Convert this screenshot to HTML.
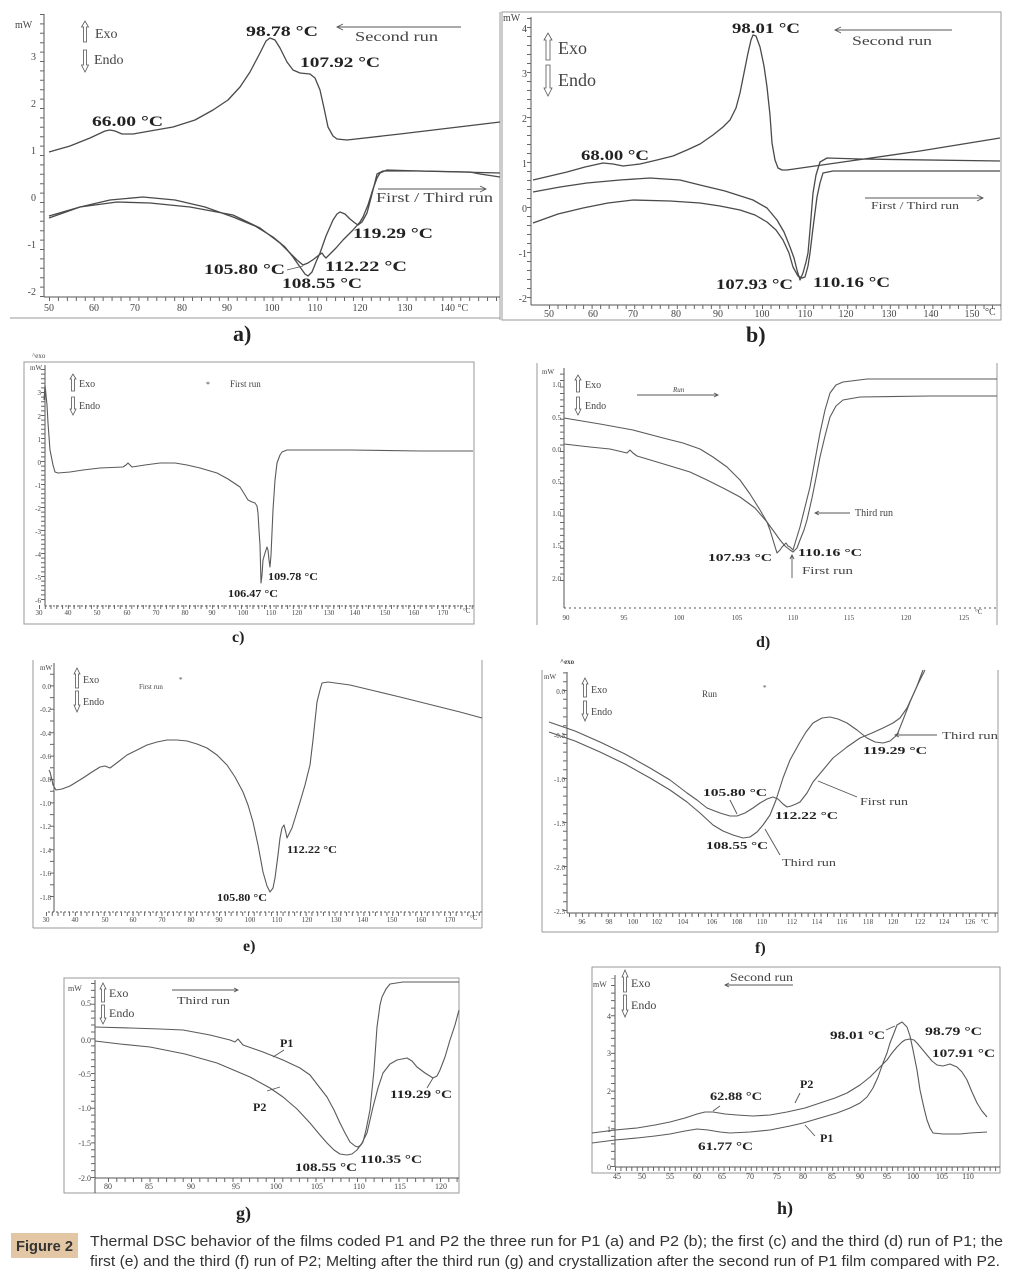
<!DOCTYPE html>
<html><head><meta charset="utf-8"><style>
html,body{margin:0;padding:0;background:#fff;}
svg{display:block;}
.c{fill:none;stroke:#4a4a4a;stroke-width:1.3;stroke-linejoin:round;}
.c2{fill:none;stroke:#5a5a5a;stroke-width:1.1;stroke-linejoin:round;}
.ax{stroke:#555;stroke-width:1;}
.fr{fill:none;stroke:#999;stroke-width:1;}
.tk{stroke:#666;stroke-width:4;}
.t{font-family:"Liberation Serif",serif;fill:#444;}
.b{font-family:"Liberation Serif",serif;font-weight:bold;fill:#222;}
.ar{fill:none;stroke:#555;stroke-width:0.8;}
.ln{stroke:#555;stroke-width:0.9;fill:none;}
</style></head><body>
<svg width="1013" height="1284" viewBox="0 0 1013 1284" xmlns="http://www.w3.org/2000/svg">
<rect width="1013" height="1284" fill="#fff"/>

<!-- ============ PANEL A ============ -->
<line class="fr" x1="10" y1="318" x2="500" y2="318"/>
<line class="fr" x1="500" y1="12" x2="500" y2="320"/>
<line class="ax" x1="44" y1="14" x2="44" y2="297"/>
<line class="ax" x1="44" y1="297" x2="500" y2="297"/>
<line class="tk" x1="42" y1="297" x2="42" y2="14" stroke-dasharray="1 8.4"/>
<line class="tk" x1="49" y1="299" x2="500" y2="299" stroke-dasharray="1 7.94"/>
<g class="t" font-size="10">
<text x="15" y="28">mW</text>
<g text-anchor="end"><text x="36" y="60">3</text><text x="36" y="107">2</text><text x="36" y="154">1</text><text x="36" y="201">0</text><text x="36" y="248">-1</text><text x="36" y="295">-2</text></g>
<g text-anchor="middle"><text x="49" y="311">50</text><text x="94" y="311">60</text><text x="135" y="311">70</text><text x="182" y="311">80</text><text x="227" y="311">90</text><text x="272" y="311">100</text><text x="315" y="311">110</text><text x="360" y="311">120</text><text x="405" y="311">130</text></g>
<text x="440" y="311">140 °C</text>
</g>
<polyline class="c" points="49,152 70,146 90,138 105,131 110,130 115,131 122,134 133,134 150,131 173,127 195,120 213,110 228,100 240,87 250,72 260,53 266,41 270,38 275,40 280,48 287,62 293,70 300,73 310,74 315,78 320,90 324,108 328,127 333,136 337,139 347,140 400,134 450,128 500,122"/>
<polyline class="c" points="49,218 80,207 110,200 143,197 175,200 205,207 233,217 255,226 273,237 285,247 293,257 300,267 305,274 308,276 312,272 316,262 320,253 326,236 333,220 337,214 340,212 345,214 350,219 355,223 358,225 362,222 367,213 371,198 375,182 377,174 383,171 420,171 460,172 500,173"/>
<polyline class="c" points="49,216 80,207 117,202 150,203 190,207 233,215 260,228 280,243 290,253 297,260 303,265 308,263 314,259 319,255 322,253 324,256 326,258 330,254 336,248 343,240 353,230 360,222 363,217 368,205 373,189 377,178 380,173 387,170 420,171 470,172 480,174 500,177"/>
<polygon class="ar" points="83.5,42 83.5,27 81.5,27 85,21 88.5,27 86.5,27 86.5,42"/>
<polygon class="ar" points="83.5,50 83.5,65 81.5,65 85,72 88.5,65 86.5,65 86.5,50"/>
<text class="t" x="95" y="38" font-size="14" fill="#333">Exo</text>
<text class="t" x="94" y="64" font-size="14" fill="#333">Endo</text>
<text class="b" x="246" y="36" font-size="15" textLength="72" lengthAdjust="spacingAndGlyphs">98.78 °C</text>
<text class="t" x="355" y="41" font-size="14" fill="#333" textLength="83" lengthAdjust="spacingAndGlyphs">Second run</text>
<line class="ln" x1="337" y1="27" x2="461" y2="27"/><polyline class="ln" points="343,24 337,27 343,30"/>
<text class="b" x="300" y="67" font-size="15" textLength="80" lengthAdjust="spacingAndGlyphs">107.92 °C</text>
<text class="b" x="92" y="126" font-size="15" textLength="71" lengthAdjust="spacingAndGlyphs">66.00 °C</text>
<text class="t" x="376" y="202" font-size="14" fill="#333" textLength="117" lengthAdjust="spacingAndGlyphs">First / Third run</text>
<line class="ln" x1="378" y1="189" x2="486" y2="189"/><polyline class="ln" points="480,186 486,189 480,192"/>
<text class="b" x="353" y="238" font-size="15" textLength="80" lengthAdjust="spacingAndGlyphs">119.29 °C</text>
<text class="b" x="204" y="274" font-size="15" textLength="81" lengthAdjust="spacingAndGlyphs">105.80 °C</text>
<line class="ln" x1="287" y1="270" x2="303" y2="266"/>
<text class="b" x="325" y="271" font-size="15" textLength="82" lengthAdjust="spacingAndGlyphs">112.22 °C</text>
<text class="b" x="282" y="288" font-size="15" textLength="80" lengthAdjust="spacingAndGlyphs">108.55 °C</text>
<text class="b" x="233" y="341" font-size="22">a)</text>

<!-- ============ PANEL B ============ -->
<rect class="fr" x="502" y="12" width="499" height="308"/>
<line class="ax" x1="531" y1="17" x2="531" y2="305"/>
<line class="ax" x1="531" y1="305" x2="1001" y2="305"/>
<line class="tk" x1="529" y1="298" x2="529" y2="17" stroke-dasharray="1 8"/>
<line class="tk" x1="549" y1="307" x2="1001" y2="307" stroke-dasharray="1 7.52"/>
<g class="t" font-size="10">
<text x="503" y="21">mW</text>
<g text-anchor="end"><text x="527" y="32">4</text><text x="527" y="77">3</text><text x="527" y="122">2</text><text x="527" y="167">1</text><text x="527" y="212">0</text><text x="527" y="257">-1</text><text x="527" y="302">-2</text></g>
<g text-anchor="middle"><text x="549" y="317">50</text><text x="593" y="317">60</text><text x="633" y="317">70</text><text x="676" y="317">80</text><text x="718" y="317">90</text><text x="762" y="317">100</text><text x="805" y="317">110</text><text x="846" y="317">120</text><text x="889" y="317">130</text><text x="931" y="317">140</text><text x="972" y="317">150</text></g>
<text x="985" y="315">°C</text>
</g>
<polyline class="c" points="533,180 550,176 567,172 585,167 603,163 613,164 623,166 640,164 657,160 673,156 687,150 700,144 713,135 723,127 730,120 736,108 740,93 744,73 748,53 751,40 753,35 756,36 760,47 764,66 767,87 770,115 772,143 775,160 778,168 782,170 787,170 850,161 920,151 1000,138"/>
<polyline class="c" points="533,192 560,187 587,183 620,180 650,178 680,180 700,185 725,191 753,200 767,208 777,220 784,232 790,247 794,258 797,270 800,280 803,273 806,262 808,253 810,230 813,193 816,175 820,162 827,158 860,159 1000,161"/>
<polyline class="c" points="533,223 558,214 583,208 608,203 633,200 670,201 700,203 720,206 740,210 755,215 767,222 776,230 783,240 789,253 793,267 798,276 802,278 805,277 808,266 810,253 813,228 817,197 820,183 823,173 833,171 900,171 1000,171"/>
<polygon class="ar" points="546,60 546,40 544,40 548,33 552,40 550,40 550,60"/>
<polygon class="ar" points="546,65 546,88 544,88 548,96 552,88 550,88 550,65"/>
<text class="t" x="558" y="54" font-size="18" fill="#333">Exo</text>
<text class="t" x="558" y="86" font-size="18" fill="#333">Endo</text>
<text class="b" x="732" y="33" font-size="15" textLength="68" lengthAdjust="spacingAndGlyphs">98.01 °C</text>
<text class="t" x="852" y="45" font-size="13" fill="#333" textLength="80" lengthAdjust="spacingAndGlyphs">Second run</text>
<line class="ln" x1="835" y1="30" x2="952" y2="30"/><polyline class="ln" points="841,27 835,30 841,33"/>
<text class="b" x="581" y="160" font-size="15" textLength="68" lengthAdjust="spacingAndGlyphs">68.00 °C</text>
<text class="t" x="871" y="209" font-size="11" fill="#333" textLength="88" lengthAdjust="spacingAndGlyphs">First / Third run</text>
<line class="ln" x1="865" y1="198" x2="983" y2="198"/><polyline class="ln" points="977,195 983,198 977,201"/>
<text class="b" x="716" y="289" font-size="15" textLength="77" lengthAdjust="spacingAndGlyphs">107.93 °C</text>
<text class="b" x="813" y="287" font-size="15" textLength="77" lengthAdjust="spacingAndGlyphs">110.16 °C</text>
<text class="b" x="746" y="342" font-size="22">b)</text>

<!-- ============ PANEL C ============ -->
<rect class="fr" x="24" y="362" width="450" height="262"/>
<line class="ax" x1="45" y1="365" x2="45" y2="606"/>
<line class="ax" x1="45" y1="606" x2="474" y2="606" stroke-dasharray="2 2"/>
<line class="tk" x1="43" y1="600" x2="43" y2="366" stroke-dasharray="1 3.6"/>
<line class="tk" x1="39" y1="607" x2="474" y2="607" stroke-dasharray="1 4.77"/>
<g class="t" font-size="7">
<text x="32" y="358">^exo</text>
<text x="30" y="370">mW</text>
<g text-anchor="end"><text x="41" y="395">3</text><text x="41" y="419">2</text><text x="41" y="442">1</text><text x="41" y="465">0</text><text x="41" y="488">-1</text><text x="41" y="511">-2</text><text x="41" y="534">-3</text><text x="41" y="557">-4</text><text x="41" y="580">-5</text><text x="41" y="603">-6</text></g>
<g text-anchor="middle"><text x="39" y="615">30</text><text x="68" y="615">40</text><text x="97" y="615">50</text><text x="127" y="615">60</text><text x="156" y="615">70</text><text x="185" y="615">80</text><text x="212" y="615">90</text><text x="243" y="615">100</text><text x="271" y="615">110</text><text x="297" y="615">120</text><text x="329" y="615">130</text><text x="355" y="615">140</text><text x="385" y="615">150</text><text x="414" y="615">160</text><text x="443" y="615">170</text></g>
<text x="463" y="613">°C</text>
</g>
<polyline class="c2" points="44,400 45,385 47,405 48,423 50,450 53,465 55,472 58,473 70,472 83,470 100,468 123,467 126,465 128,463 130,465 132,467 145,465 160,463 175,463 187,465 200,468 217,473 228,479 240,487 245,495 248,500 252,502 255,503 257,506 258,513 259,530 260,545 261,583 262,575 263,560 265,553 267,547 268,550 269,560 270,567 271,555 273,510 275,480 277,463 280,455 282,452 287,450 350,450 420,451 473,451"/>
<polygon class="ar" points="71.5,391 71.5,379 70,379 73,374 76,379 74.5,379 74.5,391"/>
<polygon class="ar" points="71.5,397 71.5,409 70,409 73,415 76,409 74.5,409 74.5,397"/>
<text class="t" x="79" y="387" font-size="10" fill="#777">Exo</text>
<text class="t" x="79" y="409" font-size="10" fill="#777">Endo</text>
<text class="t" x="206" y="387" font-size="8">*</text>
<text class="t" x="230" y="387" font-size="9">First run</text>
<text class="b" x="268" y="580" font-size="10" textLength="50" lengthAdjust="spacingAndGlyphs">109.78 °C</text>
<text class="b" x="228" y="597" font-size="10" textLength="50" lengthAdjust="spacingAndGlyphs">106.47 °C</text>
<text class="b" x="232" y="642" font-size="16">c)</text>

<!-- ============ PANEL D ============ -->
<line class="fr" x1="537" y1="363" x2="537" y2="625"/>
<line class="fr" x1="997" y1="363" x2="997" y2="625"/>
<line class="ax" x1="564" y1="368" x2="564" y2="608"/>
<line class="ax" x1="564" y1="608" x2="997" y2="608" stroke-dasharray="2 3"/>
<line class="tk" x1="562" y1="581" x2="562" y2="369" stroke-dasharray="1 5.45"/>
<g class="t" font-size="7">
<text x="542" y="374">mW</text>
<g text-anchor="end"><text x="561" y="387">1.0</text><text x="561" y="420">0.5</text><text x="561" y="452">0.0</text><text x="561" y="484">0.5</text><text x="561" y="516">1.0</text><text x="561" y="548">1.5</text><text x="561" y="581">2.0</text></g>
<g text-anchor="middle"><text x="566" y="620">90</text><text x="624" y="620">95</text><text x="679" y="620">100</text><text x="737" y="620">105</text><text x="793" y="620">110</text><text x="849" y="620">115</text><text x="906" y="620">120</text><text x="964" y="620">125</text></g>
<text x="975" y="614">°C</text>
</g>
<polyline class="c2" points="564,418 600,424 633,430 667,439 683,443 700,449 713,457 727,467 740,480 750,494 760,510 767,522 770,530 773,540 777,553 780,550 782,547 786,543 788,546 790,547 793,550 796,540 800,527 805,507 810,487 815,460 820,433 825,410 830,393 836,385 843,382 867,379 930,379 997,379"/>
<polyline class="c2" points="564,444 590,447 610,449 627,453 630,450 633,453 637,456 667,465 690,472 707,480 725,489 740,497 755,508 767,522 775,533 780,540 785,546 790,550 793,552 797,548 800,540 804,530 807,520 812,498 816,478 820,457 825,436 830,417 836,406 843,400 860,397 930,396 997,396"/>
<polygon class="ar" points="576.5,392 576.5,380 575,380 578,375 581,380 579.5,380 579.5,392"/>
<polygon class="ar" points="576.5,397 576.5,409 575,409 578,415 581,409 579.5,409 579.5,397"/>
<text class="t" x="585" y="388" font-size="10">Exo</text>
<text class="t" x="585" y="409" font-size="10">Endo</text>
<text class="t" x="673" y="392" font-size="7" font-style="italic">Run</text>
<line class="ln" x1="637" y1="395" x2="718" y2="395"/><polyline class="ln" points="714,393 718,395 714,397"/>
<text class="t" x="855" y="516" font-size="10" fill="#333">Third run</text>
<line class="ln" x1="850" y1="513" x2="815" y2="513"/><polyline class="ln" points="819,511 815,513 819,515"/>
<text class="b" x="708" y="561" font-size="10" textLength="64" lengthAdjust="spacingAndGlyphs">107.93 °C</text>
<text class="b" x="798" y="556" font-size="10" textLength="64" lengthAdjust="spacingAndGlyphs">110.16 °C</text>
<text class="t" x="802" y="574" font-size="10" fill="#333" textLength="51" lengthAdjust="spacingAndGlyphs">First run</text>
<line class="ln" x1="792" y1="578" x2="792" y2="555"/><polyline class="ln" points="790,559 792,555 794,559"/>
<text class="b" x="756" y="647" font-size="16">d)</text>

<!-- ============ PANEL E ============ -->
<line class="fr" x1="33" y1="660" x2="33" y2="928"/>
<line class="fr" x1="482" y1="660" x2="482" y2="928"/>
<line class="fr" x1="33" y1="928" x2="482" y2="928"/>
<line class="ax" x1="54" y1="663" x2="54" y2="912"/>
<line class="ax" x1="48" y1="912" x2="482" y2="912" stroke-dasharray="2 2"/>
<line class="tk" x1="52" y1="897" x2="52" y2="664" stroke-dasharray="1 10.7"/>
<line class="tk" x1="46" y1="914" x2="482" y2="914" stroke-dasharray="1 4.77"/>
<g class="t" font-size="7">
<text x="40" y="670">mW</text>
<g text-anchor="end"><text x="51" y="689">0.0</text><text x="51" y="712">-0.2</text><text x="51" y="736">-0.4</text><text x="51" y="759">-0.6</text><text x="51" y="782">-0.8</text><text x="51" y="806">-1.0</text><text x="51" y="829">-1.2</text><text x="51" y="853">-1.4</text><text x="51" y="876">-1.6</text><text x="51" y="900">-1.8</text></g>
<g text-anchor="middle"><text x="46" y="922">30</text><text x="75" y="922">40</text><text x="105" y="922">50</text><text x="133" y="922">60</text><text x="162" y="922">70</text><text x="191" y="922">80</text><text x="219" y="922">90</text><text x="250" y="922">100</text><text x="277" y="922">110</text><text x="307" y="922">120</text><text x="336" y="922">130</text><text x="363" y="922">140</text><text x="392" y="922">150</text><text x="421" y="922">160</text><text x="450" y="922">170</text></g>
<text x="470" y="920">°C</text>
</g>
<polyline class="c2" points="49,770 50,772 52,780 53,785 56,790 62,789 70,786 83,778 92,772 100,767 105,766 110,768 118,762 127,755 137,750 147,745 157,742 167,740 177,740 187,741 197,744 207,748 217,755 227,765 235,777 243,792 248,805 253,822 258,845 263,872 267,886 270,892 273,888 275,878 278,855 280,838 282,828 284,825 286,833 287,838 289,834 292,828 296,815 300,802 305,785 310,765 313,740 317,702 320,690 322,683 328,682 350,685 375,691 400,697 420,702 440,707 460,712 482,718"/>
<polygon class="ar" points="75.5,688 75.5,674 74,674 77,668 80,674 78.5,674 78.5,688"/>
<polygon class="ar" points="75.5,691 75.5,705 74,705 77,712 80,705 78.5,705 78.5,691"/>
<text class="t" x="83" y="683" font-size="10">Exo</text>
<text class="t" x="83" y="705" font-size="10">Endo</text>
<text class="t" x="139" y="689" font-size="7">First run</text>
<text class="t" x="179" y="682" font-size="7">*</text>
<text class="b" x="287" y="853" font-size="10" textLength="50" lengthAdjust="spacingAndGlyphs">112.22 °C</text>
<text class="b" x="217" y="901" font-size="10" textLength="50" lengthAdjust="spacingAndGlyphs">105.80 °C</text>
<text class="b" x="243" y="951" font-size="16">e)</text>

<!-- ============ PANEL F ============ -->
<line class="fr" x1="542" y1="670" x2="542" y2="932"/>
<line class="fr" x1="998" y1="670" x2="998" y2="932"/>
<line class="fr" x1="542" y1="932" x2="998" y2="932"/>
<line class="ax" x1="567" y1="672" x2="567" y2="913"/>
<line class="ax" x1="567" y1="913" x2="998" y2="913"/>
<line class="tk" x1="565" y1="911" x2="565" y2="672" stroke-dasharray="1 7.8"/>
<line class="tk" x1="569" y1="915" x2="998" y2="915" stroke-dasharray="1 5.45"/>
<g class="t" font-size="7">
<text x="560" y="664" font-weight="bold">^exo</text>
<text x="544" y="679">mW</text>
<g text-anchor="end"><text x="565" y="694">0.0</text><text x="565" y="738">-0.5</text><text x="565" y="782">-1.0</text><text x="565" y="826">-1.5</text><text x="565" y="870">-2.0</text><text x="565" y="914">-2.5</text></g>
<g text-anchor="middle"><text x="582" y="924">96</text><text x="609" y="924">98</text><text x="633" y="924">100</text><text x="657" y="924">102</text><text x="683" y="924">104</text><text x="712" y="924">106</text><text x="737" y="924">108</text><text x="762" y="924">110</text><text x="792" y="924">112</text><text x="817" y="924">114</text><text x="842" y="924">116</text><text x="868" y="924">118</text><text x="893" y="924">120</text><text x="920" y="924">122</text><text x="944" y="924">124</text><text x="970" y="924">126</text></g>
<text x="981" y="924">°C</text>
</g>
<polyline class="c2" points="549,722 575,731 600,742 625,754 650,768 670,780 687,793 697,800 707,808 720,813 730,816 737,816 745,813 753,808 760,803 767,799 773,797 778,799 783,804 787,807 791,806 796,804 800,802 807,793 813,782 823,770 833,758 847,747 860,738 872,733 883,728 893,723 900,718 907,708 913,695 919,682 925,670"/>
<polyline class="c2" points="549,732 575,741 600,752 625,764 650,778 670,790 687,802 700,813 713,825 723,831 733,835 743,838 750,837 757,832 763,825 770,815 776,800 783,778 790,760 800,742 806,732 813,723 822,718 830,717 838,719 847,723 857,730 867,738 875,742 883,743 890,741 897,735 903,720 910,702 917,686 923,670"/>
<polygon class="ar" points="583.5,697 583.5,684 582,684 585,678 588,684 586.5,684 586.5,697"/>
<polygon class="ar" points="583.5,701 583.5,714 582,714 585,721 588,714 586.5,714 586.5,701"/>
<text class="t" x="591" y="693" font-size="10">Exo</text>
<text class="t" x="591" y="715" font-size="10">Endo</text>
<text class="t" x="702" y="697" font-size="9">Run</text>
<text class="t" x="763" y="690" font-size="7">*</text>
<text class="t" x="942" y="739" font-size="10" fill="#333" textLength="56" lengthAdjust="spacingAndGlyphs">Third run</text>
<line class="ln" x1="895" y1="735" x2="937" y2="735"/><polyline class="ln" points="899,733 895,735 899,737"/>
<text class="b" x="863" y="754" font-size="10" textLength="64" lengthAdjust="spacingAndGlyphs">119.29 °C</text>
<text class="b" x="703" y="796" font-size="10" textLength="64" lengthAdjust="spacingAndGlyphs">105.80 °C</text>
<line class="ln" x1="730" y1="800" x2="737" y2="814"/>
<text class="b" x="775" y="819" font-size="10" textLength="63" lengthAdjust="spacingAndGlyphs">112.22 °C</text>
<text class="t" x="860" y="805" font-size="10" fill="#333" textLength="48" lengthAdjust="spacingAndGlyphs">First run</text>
<line class="ln" x1="857" y1="797" x2="818" y2="781"/>
<text class="b" x="706" y="849" font-size="10" textLength="62" lengthAdjust="spacingAndGlyphs">108.55 °C</text>
<text class="t" x="782" y="866" font-size="10" fill="#333" textLength="54" lengthAdjust="spacingAndGlyphs">Third run</text>
<line class="ln" x1="780" y1="855" x2="765" y2="829"/>
<text class="b" x="755" y="953" font-size="16">f)</text>

<!-- ============ PANEL G ============ -->
<rect class="fr" x="64" y="978" width="395" height="215"/>
<line class="ax" x1="95" y1="980" x2="95" y2="1193"/>
<line class="ax" x1="95" y1="1178" x2="459" y2="1178"/>
<line class="tk" x1="93" y1="1178" x2="93" y2="982" stroke-dasharray="1 5.93"/>
<line class="tk" x1="108" y1="1180" x2="459" y2="1180" stroke-dasharray="1 7.3"/>
<g class="t" font-size="8">
<text x="68" y="991">mW</text>
<g text-anchor="end"><text x="91" y="1006">0.5</text><text x="91" y="1043">0.0</text><text x="91" y="1077">-0.5</text><text x="91" y="1111">-1.0</text><text x="91" y="1146">-1.5</text><text x="91" y="1181">-2.0</text></g>
<g text-anchor="middle"><text x="108" y="1189">80</text><text x="149" y="1189">85</text><text x="191" y="1189">90</text><text x="236" y="1189">95</text><text x="276" y="1189">100</text><text x="317" y="1189">105</text><text x="359" y="1189">110</text><text x="400" y="1189">115</text><text x="441" y="1189">120</text></g>
</g>
<polyline class="c2" points="95,1027 130,1028 160,1029 183,1030 210,1035 230,1040 235,1042 238,1039 243,1045 263,1052 283,1060 300,1068 310,1075 320,1088 327,1097 334,1110 340,1123 345,1133 350,1142 355,1146 358,1147 361,1145 363,1142 366,1130 370,1110 374,1070 377,1027 380,1005 382,997 386,989 390,984 403,982 430,982 459,982"/>
<polyline class="c2" points="95,1041 120,1044 150,1047 185,1054 217,1063 250,1077 270,1088 283,1097 297,1109 310,1123 320,1135 327,1143 334,1150 340,1154 347,1155 352,1154 357,1150 362,1143 367,1133 370,1120 373,1107 378,1088 383,1073 390,1064 397,1060 407,1058 412,1061 417,1067 425,1073 433,1078 437,1076 440,1070 445,1057 450,1040 455,1025 459,1010"/>
<polygon class="ar" points="101.5,1002 101.5,989 100,989 103,983 106,989 104.5,989 104.5,1002"/>
<polygon class="ar" points="101.5,1005 101.5,1018 100,1018 103,1024 106,1018 104.5,1018 104.5,1005"/>
<text class="t" x="109" y="997" font-size="12">Exo</text>
<text class="t" x="109" y="1017" font-size="12">Endo</text>
<text class="t" x="177" y="1004" font-size="11" fill="#333" textLength="53" lengthAdjust="spacingAndGlyphs">Third run</text>
<line class="ln" x1="172" y1="990" x2="238" y2="990"/><polyline class="ln" points="234,988 238,990 234,992"/>
<text class="b" x="280" y="1047" font-size="12">P1</text>
<line class="ln" x1="273" y1="1057" x2="284" y2="1050"/>
<text class="b" x="253" y="1111" font-size="12">P2</text>
<line class="ln" x1="267" y1="1091" x2="280" y2="1087"/>
<text class="b" x="390" y="1098" font-size="12" textLength="62" lengthAdjust="spacingAndGlyphs">119.29 °C</text>
<line class="ln" x1="427" y1="1088" x2="433" y2="1078"/>
<text class="b" x="295" y="1171" font-size="12" textLength="62" lengthAdjust="spacingAndGlyphs">108.55 °C</text>
<text class="b" x="360" y="1163" font-size="12" textLength="62" lengthAdjust="spacingAndGlyphs">110.35 °C</text>
<text class="b" x="236" y="1219" font-size="18">g)</text>

<!-- ============ PANEL H ============ -->
<rect class="fr" x="592" y="967" width="408" height="206"/>
<line class="ax" x1="615" y1="975" x2="615" y2="1167"/>
<line class="ax" x1="615" y1="1167" x2="1000" y2="1167"/>
<line class="tk" x1="613" y1="1167" x2="613" y2="978" stroke-dasharray="1 6.54"/>
<line class="tk" x1="615" y1="1169" x2="1000" y2="1169" stroke-dasharray="1 4.43"/>
<g class="t" font-size="8">
<text x="593" y="987">mW</text>
<g text-anchor="end"><text x="611" y="1019">4</text><text x="611" y="1056">3</text><text x="611" y="1094">2</text><text x="611" y="1132">1</text><text x="611" y="1170">0</text></g>
<g text-anchor="middle"><text x="617" y="1179">45</text><text x="642" y="1179">50</text><text x="670" y="1179">55</text><text x="697" y="1179">60</text><text x="722" y="1179">65</text><text x="750" y="1179">70</text><text x="777" y="1179">75</text><text x="803" y="1179">80</text><text x="832" y="1179">85</text><text x="860" y="1179">90</text><text x="887" y="1179">95</text><text x="913" y="1179">100</text><text x="942" y="1179">105</text><text x="968" y="1179">110</text></g>
</g>
<polyline class="c2" points="592,1143 615,1140 637,1138 655,1136 670,1134 685,1131 697,1129 708,1130 720,1132 730,1133 750,1132 770,1130 790,1126 803,1123 820,1118 837,1113 850,1108 860,1103 867,1097 873,1088 878,1077 883,1063 887,1053 890,1043 894,1033 897,1025 902,1022 907,1027 910,1036 913,1050 917,1070 920,1090 924,1108 927,1120 930,1128 933,1133 943,1134 960,1134 970,1133 987,1132"/>
<polyline class="c2" points="592,1133 615,1130 637,1128 655,1125 670,1122 685,1118 697,1114 705,1112 713,1112 725,1114 737,1115 753,1116 770,1115 787,1112 805,1108 820,1103 835,1098 847,1093 860,1085 870,1077 880,1067 887,1060 892,1053 897,1047 902,1042 905,1040 910,1039 914,1040 917,1043 922,1049 927,1055 932,1061 937,1065 943,1066 950,1064 957,1067 962,1072 967,1080 972,1092 977,1103 982,1111 987,1117"/>
<polygon class="ar" points="623.5,992 623.5,977 622,977 625,970 628,977 626.5,977 626.5,992"/>
<polygon class="ar" points="623.5,995 623.5,1010 622,1010 625,1017 628,1010 626.5,1010 626.5,995"/>
<text class="t" x="631" y="987" font-size="12">Exo</text>
<text class="t" x="631" y="1009" font-size="12">Endo</text>
<text class="t" x="730" y="981" font-size="12" fill="#333" textLength="63" lengthAdjust="spacingAndGlyphs">Second run</text>
<line class="ln" x1="725" y1="985" x2="793" y2="985"/><polyline class="ln" points="729,983 725,985 729,987"/>
<text class="b" x="830" y="1039" font-size="12" textLength="55" lengthAdjust="spacingAndGlyphs">98.01 °C</text>
<line class="ln" x1="886" y1="1030" x2="895" y2="1026"/>
<text class="b" x="925" y="1035" font-size="12" textLength="57" lengthAdjust="spacingAndGlyphs">98.79 °C</text>
<text class="b" x="932" y="1057" font-size="12" textLength="63" lengthAdjust="spacingAndGlyphs">107.91 °C</text>
<text class="b" x="800" y="1088" font-size="12">P2</text>
<line class="ln" x1="795" y1="1103" x2="800" y2="1093"/>
<text class="b" x="710" y="1100" font-size="12" textLength="52" lengthAdjust="spacingAndGlyphs">62.88 °C</text>
<line class="ln" x1="720" y1="1106" x2="713" y2="1111"/>
<text class="b" x="820" y="1142" font-size="12">P1</text>
<line class="ln" x1="815" y1="1136" x2="805" y2="1125"/>
<text class="b" x="698" y="1150" font-size="12" textLength="55" lengthAdjust="spacingAndGlyphs">61.77 °C</text>
<text class="b" x="777" y="1214" font-size="18">h)</text>

<!-- ============ CAPTION ============ -->
<rect x="11" y="1233" width="67" height="25" fill="#e3c7a4"/>
<text x="16" y="1251" font-family="'Liberation Sans Narrow','Liberation Sans',sans-serif" font-weight="bold" font-size="15" fill="#333" textLength="57" lengthAdjust="spacingAndGlyphs">Figure 2</text>
<text x="90" y="1246" font-family="'Liberation Sans Narrow','Liberation Sans',sans-serif" font-size="15" fill="#333" textLength="913" lengthAdjust="spacingAndGlyphs">Thermal DSC behavior of the films coded P1 and P2 the three run for P1 (a) and P2 (b); the first (c) and the third (d) run of P1; the</text>
<text x="90" y="1266" font-family="'Liberation Sans Narrow','Liberation Sans',sans-serif" font-size="15" fill="#333" textLength="910" lengthAdjust="spacingAndGlyphs">first (e) and the third (f) run of P2; Melting after the third run (g) and crystallization after the second run of P1 film compared with P2.</text>
</svg>
</body></html>
